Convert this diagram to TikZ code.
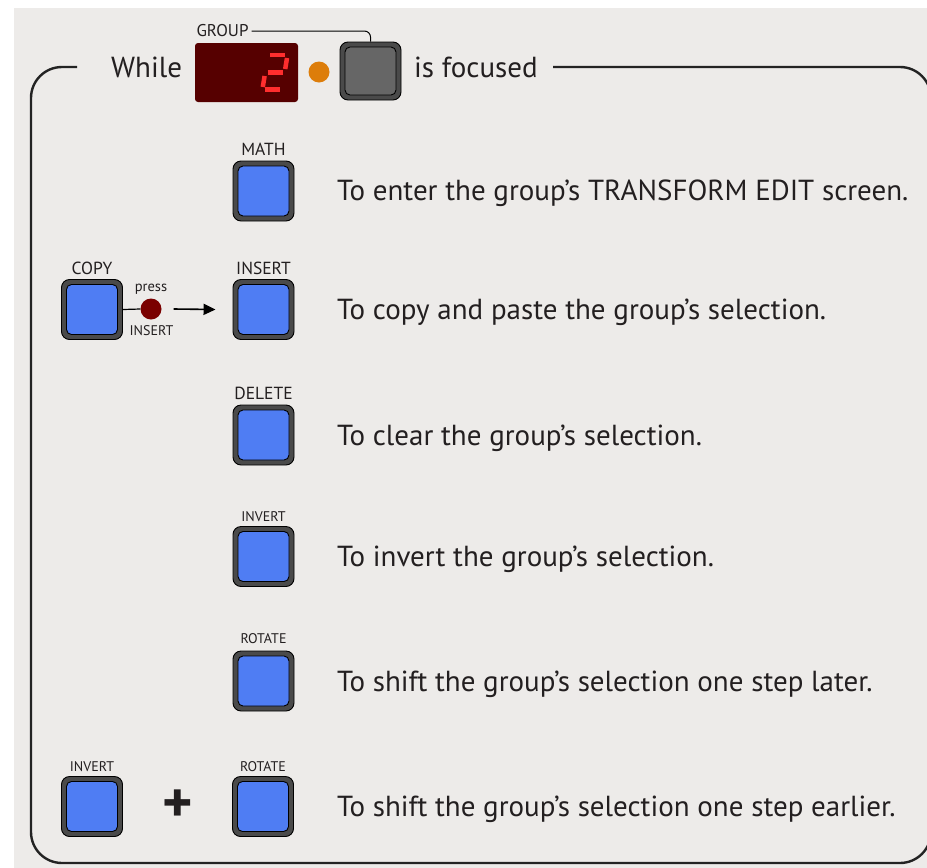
\documentclass[tikz,border=0pt]{standalone}
\usepackage{fontspec}
\setmainfont{PT Sans}
\usetikzlibrary{arrows.meta}
\definecolor{panelbg}{HTML}{EDEBE9}
\definecolor{framecol}{HTML}{232323}
\definecolor{padblue}{HTML}{4F7DF3}
\definecolor{padrim}{HTML}{4A4A4A}
\definecolor{padgrey}{HTML}{666666}
\definecolor{ledred}{HTML}{FF2E2E}
\definecolor{dispbg}{HTML}{560000}
\definecolor{ledorange}{HTML}{DD7D0A}
\definecolor{pressdot}{HTML}{7A0000}
\definecolor{inktext}{HTML}{231F20}

\tikzset{
  padbtn/.style={draw=black, line width=0.9pt, fill=padrim, rounded corners=8pt,
    minimum width=61pt, minimum height=60pt, inner sep=0pt,
    path picture={\draw[black, line width=0.9pt, fill=#1, rounded corners=5pt]
      ([shift={(5pt,-5pt)}]path picture bounding box.north west) rectangle
      ([shift={(-5pt,5pt)}]path picture bounding box.south east);}},
  padbtn/.default=padblue,
  btnlbl/.style={anchor=base, inner sep=0pt, text=inktext, font=\fontsize{17.5}{19}\selectfont},
  smalllbl/.style={anchor=base, inner sep=0pt, text=inktext, font=\fontsize{14}{16}\selectfont},
  desc/.style={anchor=base west, inner sep=0pt, text=inktext, font=\fontsize{29}{34}\selectfont},
  segment/.style={ledred, line width=4.5pt},
}

\begin{document}
\begin{tikzpicture}[x=1pt, y=-1pt]
\useasboundingbox (0,0) rectangle (927,868);
\fill[white] (0,0) rectangle (927,868);
\fill[panelbg] (14,8) rectangle (927,868);

% surrounding frame, open at the top for the header
\begin{scope}
  \clip (0,0) rectangle (927,868);
  \draw[framecol, line width=2.4pt, rounded corners=31pt]
    (77,67) -- (31,67) -- (31,863) -- (931,863) -- (931,67) -- (553,67);
\end{scope}

% header: While [display] (led) [button] is focused
\node[desc] (while) at (111,77) {While};
\node[fill=dispbg, rounded corners=3pt, minimum width=103pt, minimum height=59pt, inner sep=0pt] (disp) at (246.5,72.5) {};
% seven-segment "2"
\draw[segment] (270,55) -- (285,55);
\draw[segment] (287,58) -- (285.2,69);
\draw[segment] (267.5,72.5) -- (282.5,72.5);
\draw[segment] (264.6,76) -- (262.8,87);
\draw[segment] (264.5,89.5) -- (279.5,89.5);
\node[circle, fill=ledorange, minimum size=21pt, inner sep=0pt] (focusled) at (319,72) {};
\node[padbtn=padgrey, minimum height=58pt] (gbtn) at (370.5,71) {};
\node[smalllbl, font=\fontsize{17}{18}\selectfont] (grouplbl) at (222.5,36) {GROUP};
\draw[black, line width=1pt, rounded corners=6pt] ([xshift=3pt,yshift=-1pt]grouplbl.east) -| (gbtn.north);
\node[desc] (focused) at (414,77) {is focused};

% MATH
\node[padbtn] (math) at (263.5,191) {};
\node[btnlbl] (mathlbl) at (263.5,155) {MATH};
\node[desc] (mathtxt) at (337,200) {To enter the group’s TRANSFORM EDIT screen.};

% COPY -> press INSERT
\node[padbtn] (copy) at (92,309.5) {};
\node[btnlbl] (copylbl) at (92,274) {COPY};
\node[circle, fill=pressdot, minimum size=21pt, inner sep=0pt] (pdot) at (151,309) {};
\node[smalllbl, font=\fontsize{14.5}{16}\selectfont] (presslbl) at (151,291) {press};
\node[smalllbl] (pressins) at (151.5,335) {INSERT};
\draw[black, line width=1.2pt] (copy.east) -- (pdot.west);
\node[padbtn] (insert) at (263.5,309.5) {};
\node[btnlbl] (insertlbl) at (263.5,274) {INSERT};
\draw[black, line width=1.6pt, -{Triangle[length=12pt,width=11pt]}]
  ([xshift=12pt]pdot.east) -- ([xshift=-17pt]insert.west);
\node[desc] (inserttxt) at (337,319) {To copy and paste the group’s selection.};

% DELETE
\node[padbtn] (delete) at (263.5,435) {};
\node[btnlbl] (deletelbl) at (263.5,399) {DELETE};
\node[desc] (deletetxt) at (337,445) {To clear the group’s selection.};

% INVERT
\node[padbtn] (invert) at (263.5,556.5) {};
\node[smalllbl] (invertlbl) at (263.5,521) {INVERT};
\node[desc] (inverttxt) at (337,566) {To invert the group’s selection.};

% ROTATE
\node[padbtn] (rotate) at (263.5,681) {};
\node[smalllbl] (rotatelbl) at (263.5,643) {ROTATE};
\node[desc] (rotatetxt) at (337,691) {To shift the group’s selection one step later.};

% INVERT + ROTATE
\node[padbtn] (invtwo) at (92,806.5) {};
\node[smalllbl] (invtwolbl) at (92,771) {INVERT};
\node[text=inktext, font=\fontsize{58}{58}\selectfont\bfseries, inner sep=0pt] (plus) at (177.5,806) {+};
\node[padbtn] (rottwo) at (263,806.5) {};
\node[smalllbl] (rottwolbl) at (263,771) {ROTATE};
\node[desc] (rottwotxt) at (337,816) {To shift the group’s selection one step earlier.};
\end{tikzpicture}
\end{document}
